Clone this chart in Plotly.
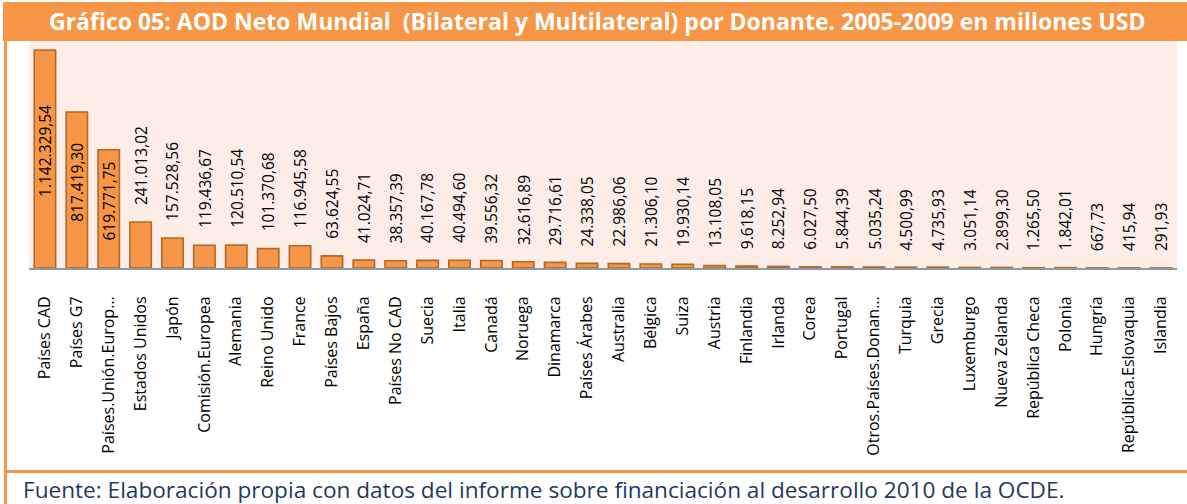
import plotly.graph_objects as go

W, H = 1187, 504
ML, MR, MT, MB = 29, 10, 41, 236

donantes = ["Países CAD", "Países G7", "Países.Unión.Europ…", "Estados Unidos", "Japón",
            "Comisión.Europea", "Alemania", "Reino Unido", "France", "Países Bajos", "España",
            "Países No CAD", "Suecia", "Italia", "Canadá", "Noruega", "Dinamarca", "Países Árabes",
            "Australia", "Bélgica", "Suiza", "Austria", "Finlandia", "Irlanda", "Corea", "Portugal",
            "Otros.Países.Donan…", "Turquia", "Grecia", "Luxemburgo", "Nueva Zelanda",
            "República Checa", "Polonia", "Hungría", "República.Eslovaquia", "Islandia"]
aod = [1142329.54, 817419.30, 619771.75, 241013.02, 157528.56,
       119436.67, 120510.54, 101370.68, 116945.58, 63624.55, 41024.71,
       38357.39, 40167.78, 40494.60, 39556.32, 32616.89, 29716.61, 24338.05,
       22986.06, 21306.10, 19930.14, 13108.05, 9618.15, 8252.94, 6027.50, 5844.39,
       5035.24, 4500.99, 4735.93, 3051.14, 2899.30,
       1265.50, 1842.01, 667.73, 415.94, 291.93]

titulo = "Gráfico 05: AOD Neto Mundial  (Bilateral y Multilateral) por Donante. 2005-2009 en millones USD"
fuente = "Fuente: Elaboración propia con datos del informe sobre financiación al desarrollo 2010 de la OCDE."

ORANGE = "#F79646"
FONT = "Open Sans"


def fmt(v):
    return f"{v:,.2f}".replace(",", "X").replace(".", ",").replace("X", ".")


pw = W - ML - MR
ph = H - MT - MB


def px(x):
    return (x - ML) / pw


def py(y):
    return (H - MB - y) / ph


fig = go.Figure()
fig.add_trace(go.Bar(
    x=donantes, y=aod,
    marker=dict(color=ORANGE, line=dict(color="#B0692B", width=1.6)),
    hoverinfo="x+y",
))

annotations = []
for name, v in zip(donantes, aod):
    if v > 500000:
        annotations.append(dict(x=name, y=v / 2, xref="x", yref="y", text=fmt(v), textangle=-90,
                                showarrow=False, yanchor="middle", xanchor="center", yshift=8,
                                font=dict(family=FONT, size=15.5, color="#000000")))
    else:
        annotations.append(dict(x=name, y=v, xref="x", yref="y", text=fmt(v), textangle=-90,
                                showarrow=False, yanchor="bottom", xanchor="center", yshift=15,
                                font=dict(family=FONT, size=15.5, color="#000000")))

annotations.append(dict(x=px(597), y=py(21), xref="paper", yref="paper", text="<b>" + titulo + "</b>",
                        showarrow=False, xanchor="center", yanchor="middle",
                        font=dict(family=FONT, size=23, color="#FFFFFF")))
annotations.append(dict(x=px(21), y=py(489), xref="paper", yref="paper", text=fuente,
                        showarrow=False, xanchor="left", yanchor="middle",
                        font=dict(family=FONT, size=22.6, color="#1F3A60")))

shapes = [
    dict(type="rect", xref="paper", yref="paper", x0=px(3), x1=px(W), y0=py(41), y1=py(2),
         fillcolor=ORANGE, line=dict(width=0), layer="below"),
    dict(type="rect", xref="paper", yref="paper", x0=px(4), x1=px(7), y0=py(H), y1=py(41),
         fillcolor=ORANGE, line=dict(width=0), layer="below"),
    dict(type="rect", xref="paper", yref="paper", x0=px(4), x1=px(W), y0=py(473), y1=py(470),
         fillcolor=ORANGE, line=dict(width=0), layer="below"),
]

fig.update_layout(
    width=W, height=H,
    margin=dict(l=ML, r=MR, t=MT, b=MB, pad=0),
    paper_bgcolor="#FFFFFF",
    plot_bgcolor="#FCEDE7",
    bargap=0.33,
    showlegend=False,
    annotations=annotations,
    shapes=shapes,
    font=dict(family=FONT, color="#000000"),
)
fig.update_xaxes(
    tickangle=-90, tickfont=dict(family=FONT, size=16, color="#000000"),
    showline=True, linecolor="#8C99A6", linewidth=2, ticks="", showgrid=False,
    ticklabelstandoff=20, automargin=False,
)
fig.update_yaxes(
    range=[0, 1189500], visible=False, showgrid=False, zeroline=False,
)

fig.write_html("out.html", config={"displayModeBar": False},
               post_script="document.body.style.margin='0';document.body.style.overflow='hidden';")
